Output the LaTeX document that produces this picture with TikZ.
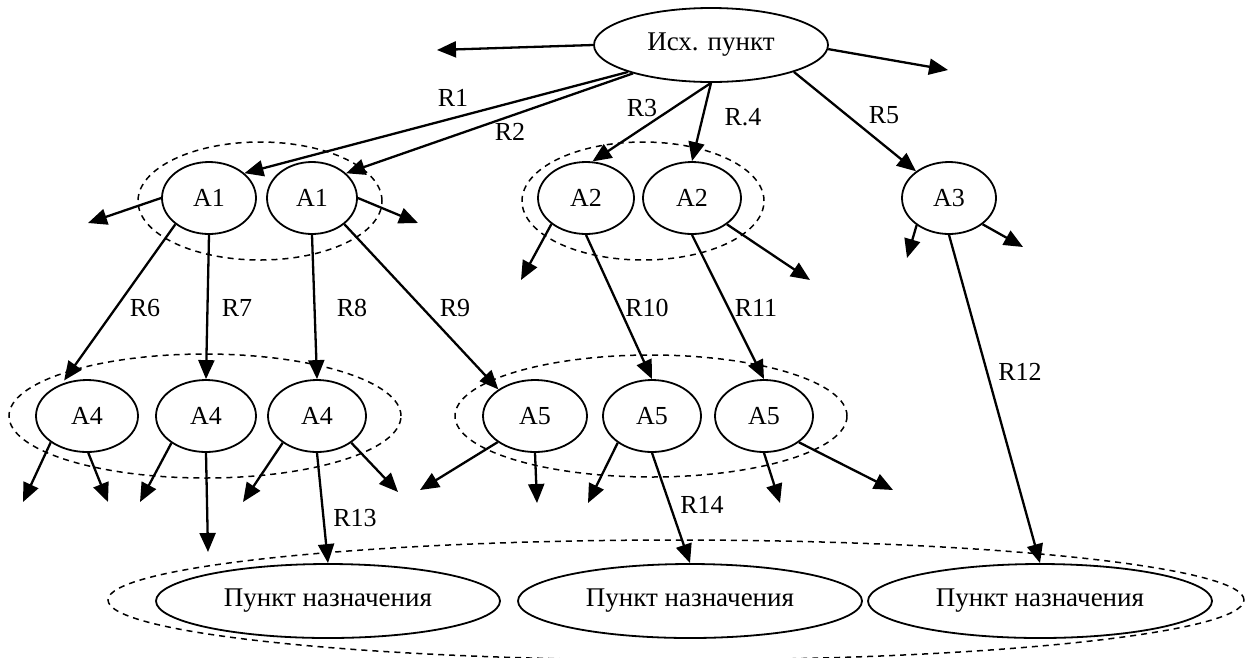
\documentclass[tikz,border=0pt]{standalone}
\usepackage{fontspec}
\setmainfont{Liberation Serif}
\usetikzlibrary{shapes.geometric,arrows.meta}

\begin{document}
\begin{tikzpicture}[x=1pt,y=-1pt,
  every node/.style={font=\fontsize{26}{30}\selectfont},
  place/.style={draw, ellipse, line width=1.8pt, fill=white, inner sep=0pt},
  group/.style={draw, ellipse, dash pattern=on 6pt off 5pt, line width=1.5pt, inner sep=0pt},
  link/.style={line width=2.3pt, -{Triangle[length=19pt,width=16pt]}},
  lbl/.style={inner sep=0pt}
]
\useasboundingbox (0,0) rectangle (1249,657);

% dashed groupings
\node[group, minimum width=244, minimum height=118] (g1) at (260,201) {};
\node[group, minimum width=242, minimum height=118] (g2) at (643,201) {};
\node[group, minimum width=392, minimum height=124] (g3) at (205,416) {};
\node[group, minimum width=392, minimum height=122] (g4) at (651,416) {};
\node[group, minimum width=1136, minimum height=120] (g5) at (676,600) {};

% places
\node[place, minimum width=234, minimum height=74, font=\fontsize{27}{30}\selectfont] (top) at (711,45) {Исх. пункт};
\node[place, minimum width=94, minimum height=72] (a1L) at (209,198) {A1};
\node[place, minimum width=90, minimum height=72] (a1R) at (312,198) {A1};
\node[place, minimum width=96, minimum height=72] (a2L) at (586,198) {A2};
\node[place, minimum width=98, minimum height=72] (a2R) at (692,198) {A2};
\node[place, minimum width=94, minimum height=72] (a3) at (949,198) {A3};
\node[place, minimum width=102, minimum height=72] (a4a) at (87,416) {A4};
\node[place, minimum width=100, minimum height=72] (a4b) at (206,416) {A4};
\node[place, minimum width=98, minimum height=72] (a4c) at (317,416) {A4};
\node[place, minimum width=104, minimum height=72] (a5a) at (535,416) {A5};
\node[place, minimum width=98, minimum height=72] (a5b) at (652,416) {A5};
\node[place, minimum width=98, minimum height=72] (a5c) at (764,416) {A5};
\node[place, minimum width=344, minimum height=74, font=\fontsize{27}{30}\selectfont] (p1) at (328,601) {Пункт назначения};
\node[place, minimum width=344, minimum height=74, font=\fontsize{27}{30}\selectfont] (p2) at (690,601) {Пункт назначения};
\node[place, minimum width=344, minimum height=74, font=\fontsize{27}{30}\selectfont] (p3) at (1040,601) {Пункт назначения};

% free ends of outgoing arrows
\coordinate (tl) at (437,50);
\coordinate (tr) at (948,70);
\coordinate (e1L) at (88,223);
\coordinate (e1R) at (418,223);
\coordinate (e2L) at (521,280);
\coordinate (e2R) at (810,280);
\coordinate (e3a) at (907,258);
\coordinate (e3b) at (1023,247);
\coordinate (e4a1) at (23,502);
\coordinate (e4a2) at (108,502);
\coordinate (e4b1) at (140,502);
\coordinate (e4b2) at (208,552);
\coordinate (e4c1) at (243,502);
\coordinate (e4c2) at (398,492);
\coordinate (e5a1) at (420,490);
\coordinate (e5a2) at (537,503);
\coordinate (e5b) at (588,503);
\coordinate (e5c1) at (780,503);
\coordinate (e5c2) at (893,490);

% routes from the origin
\draw[link] (top.180) -- (tl);
\draw[link] (top.-2) -- (tr);
\draw[link] (top.198) -- (a1L.35);
\draw[link] (top.200) -- (a1R.36);
\draw[link] (top.south) -- (a2L.80);
\draw[link] (top.south) -- (a2R.90);
\draw[link] (top.-18) -- (a3.141);

% second level
\draw[link] (a1L.180) -- (e1L);
\draw[link] (a1R.0) -- (e1R);
\draw[link, shorten >=4pt] (a1L.218) -- (a4a.128);
\draw[link] (a1L.-90) -- (a4b.90);
\draw[link] (a1R.-90) -- (a4c.90);
\draw[link] (a1R.-39) -- (a5a.144);
\draw[link] (a2L.217) -- (e2L);
\draw[link] (a2R.-37) -- (e2R);
\draw[link] (a2L.-90) -- (a5b.90);
\draw[link] (a2R.-90) -- (a5c.90);
\draw[link] (a3.220) -- (e3a);
\draw[link] (a3.-38) -- (e3b);
\draw[link] (a3.-90) -- (p3.90);

% third level
\draw[link] (a4a.216) -- (e4a1);
\draw[link] (a4a.-88) -- (e4a2);
\draw[link] (a4b.218) -- (e4b1);
\draw[link] (a4b.-90) -- (e4b2);
\draw[link] (a4c.218) -- (e4c1);
\draw[link] (a4c.-38) -- (e4c2);
\draw[link] (a4c.-90) -- (p1.90);
\draw[link] (a5a.215) -- (e5a1);
\draw[link] (a5a.-90) -- (e5a2);
\draw[link] (a5b.218) -- (e5b);
\draw[link] (a5b.-90) -- (p2.90);
\draw[link] (a5c.-90) -- (e5c1);
\draw[link] (a5c.-37) -- (e5c2);

% route labels
\node[lbl] (r1) at (453,98) {R1};
\node[lbl] (r2) at (510,132) {R2};
\node[lbl] (r3) at (642,108) {R3};
\node[lbl] (r4) at (743,117) {R.4};
\node[lbl] (r5) at (884,115) {R5};
\node[lbl] (r6) at (145,308) {R6};
\node[lbl] (r7) at (237,308) {R7};
\node[lbl] (r8) at (352,308) {R8};
\node[lbl] (r9) at (455,308) {R9};
\node[lbl] (r10) at (647,308) {R10};
\node[lbl] (r11) at (756,308) {R11};
\node[lbl] (r12) at (1020,372) {R12};
\node[lbl] (r13) at (355,518) {R13};
\node[lbl] (r14) at (702,505) {R14};
\end{tikzpicture}
\end{document}
